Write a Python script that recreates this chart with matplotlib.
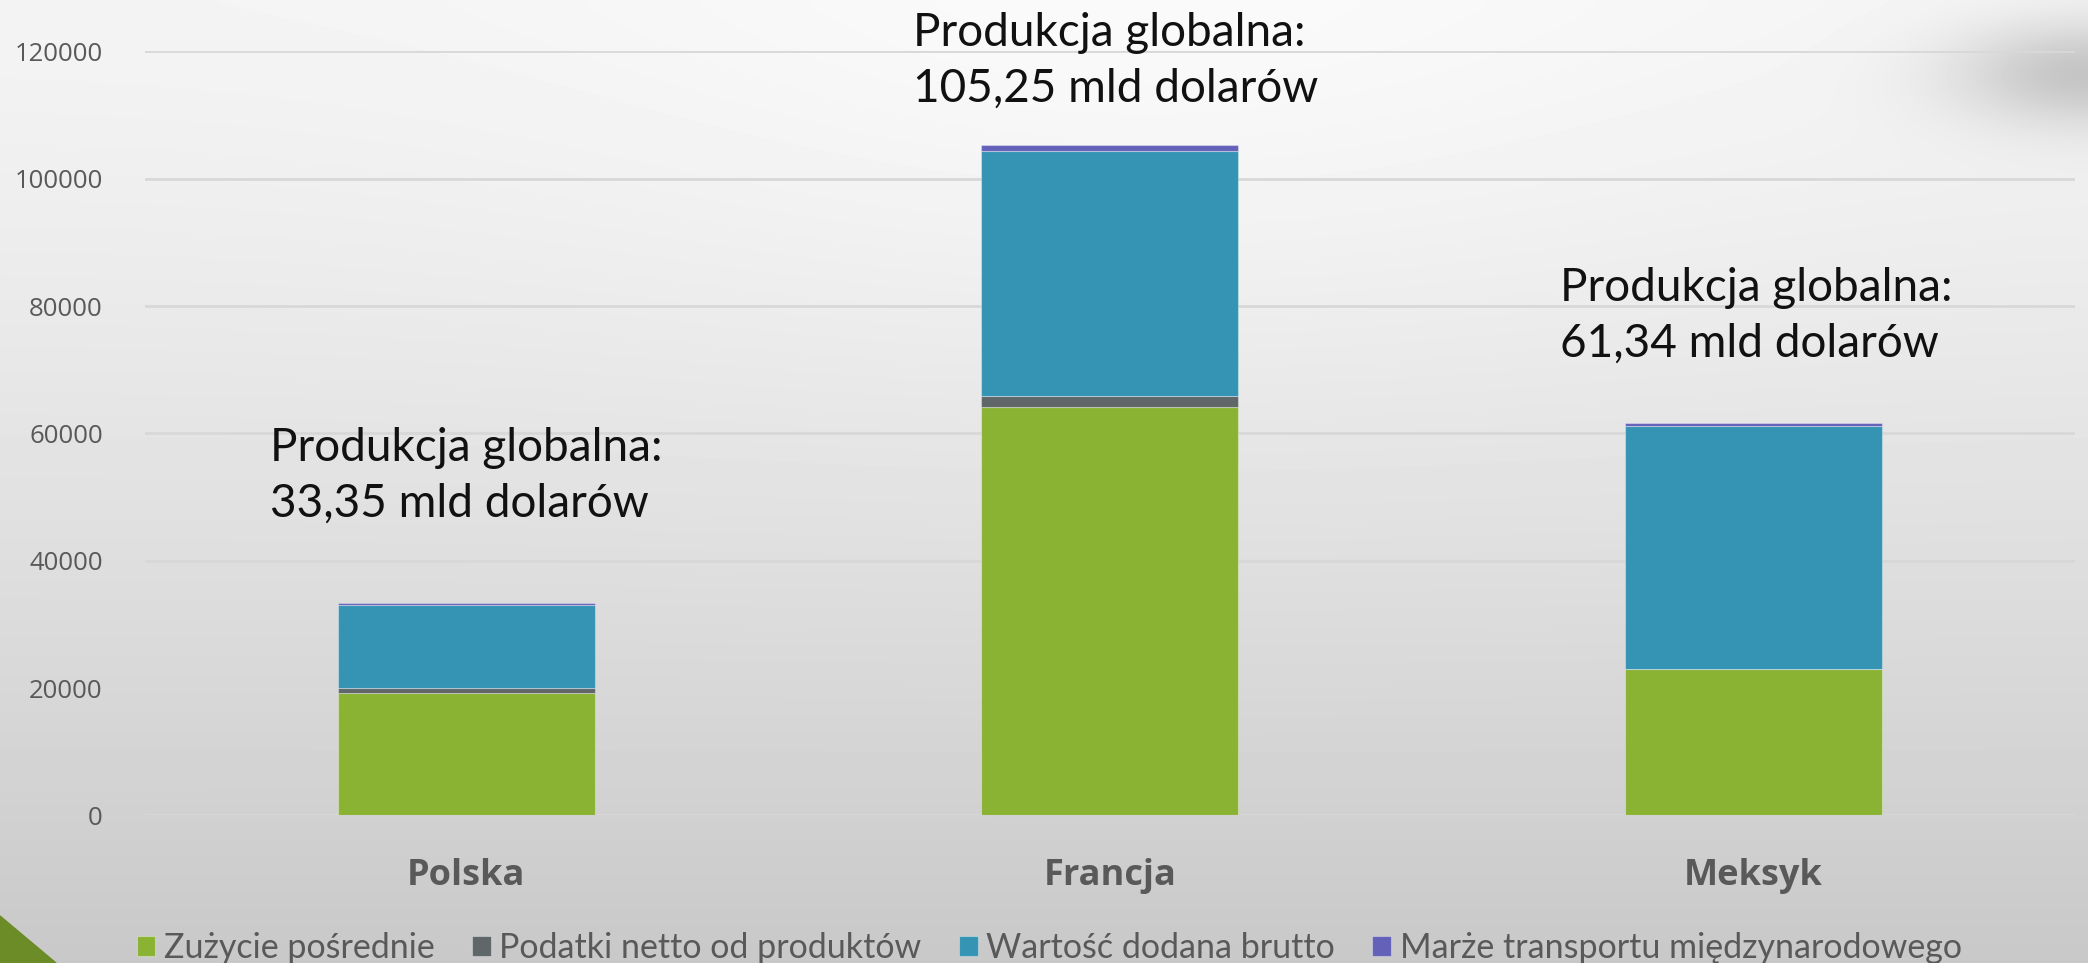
import numpy as np
import matplotlib
matplotlib.use("Agg")
import matplotlib.pyplot as plt
from matplotlib.patches import Polygon

# data (mln dolarów)
countries = ["Polska", "Francja", "Meksyk"]
zuzycie = [19200, 64100, 23000]
podatki = [830, 1770, 0]
wartosc = [13000, 38460, 38200]
marze = [320, 920, 360]
series_names = ["Zużycie pośrednie", "Podatki netto od produktów",
                "Wartość dodana brutto", "Marże transportu międzynarodowego"]
notes = ["Produkcja globalna:\n33,35 mld dolarów",
         "Produkcja globalna:\n105,25 mld dolarów",
         "Produkcja globalna:\n61,34 mld dolarów"]
note_x = [-0.305, 0.695, 1.70]
note_y = [53300, 118500, 78400]
yticks = [0, 20000, 40000, 60000, 80000, 100000, 120000]

colors = ["#8bb333", "#5f6768", "#3593b4", "#6462b8"]
txt_gray = "#595959"

fig = plt.figure(figsize=(20.88, 9.63), dpi=100)

# background gradient + shadow top right
bg = fig.add_axes([0, 0, 1, 1], zorder=-10)
H, W = 200, 400
yy, xx = np.mgrid[0:1:H * 1j, 0:1:W * 1j]
img = 0.955 - 0.17 * yy ** 1.3
img += 0.025 * np.exp(-((xx - 0.55) ** 2 / 0.08 + (yy - 0.05) ** 2 / 0.15))
img -= 0.18 * np.exp(-((xx - 1.0) ** 2 / 0.004 + (yy - 0.075) ** 2 / 0.003))
img = np.clip(img, 0, 1)
bg.imshow(img, cmap="gray", vmin=0, vmax=1, extent=[0, 1, 0, 1],
          aspect="auto", origin="upper", interpolation="bilinear")
bg.add_patch(Polygon([[0, 0], [0, 47 / 963], [56 / 2088, 0]],
                     closed=True, color="#6b8c26", transform=bg.transAxes))
bg.set_xlim(0, 1)
bg.set_ylim(0, 1)
bg.axis("off")

ax = fig.add_axes([144.5 / 2088, 147.7 / 963, 1930.5 / 2088, 763.8 / 963])
ax.patch.set_alpha(0)
x = np.arange(len(countries))
bottom = np.zeros(len(countries))
for vals, c, name in zip([zuzycie, podatki, wartosc, marze], colors, series_names):
    ax.bar(x, vals, 0.4, bottom=bottom, color=c, label=name,
           edgecolor=(1, 1, 1, 0.35), linewidth=0.8, zorder=3)
    bottom += np.array(vals)

ax.set_xlim(-0.5, 2.5)
ax.set_ylim(0, 120000)
ax.set_yticks(yticks)
ax.set_yticklabels([str(t) for t in yticks], fontsize=18.5, color=txt_gray,
                   family="Open Sans")
ax.set_xticks(x)
ax.set_xticklabels(countries, fontsize=26, color=txt_gray, fontweight="bold",
                   family="Open Sans")
ax.tick_params(axis="both", length=0)
ax.tick_params(axis="y", pad=30)
ax.tick_params(axis="x", pad=31)
ax.grid(axis="y", color="#d8d8d8", linewidth=2, zorder=0)
for s in ax.spines.values():
    s.set_visible(False)

for xi, yi, t in zip(note_x, note_y, notes):
    ax.text(xi, yi, t, fontsize=33, color="#111111", family="Lato",
            ha="left", va="center", linespacing=1.4, clip_on=False)

fig.legend(loc="lower center", bbox_to_anchor=(0.5025, -0.033), ncol=4,
           frameon=False, prop={"family": "Lato", "size": 24.5},
           handlelength=0.55, handleheight=0.55, handletextpad=0.25,
           columnspacing=1.1, labelcolor=txt_gray)

plt.savefig("out.png", dpi=100)
